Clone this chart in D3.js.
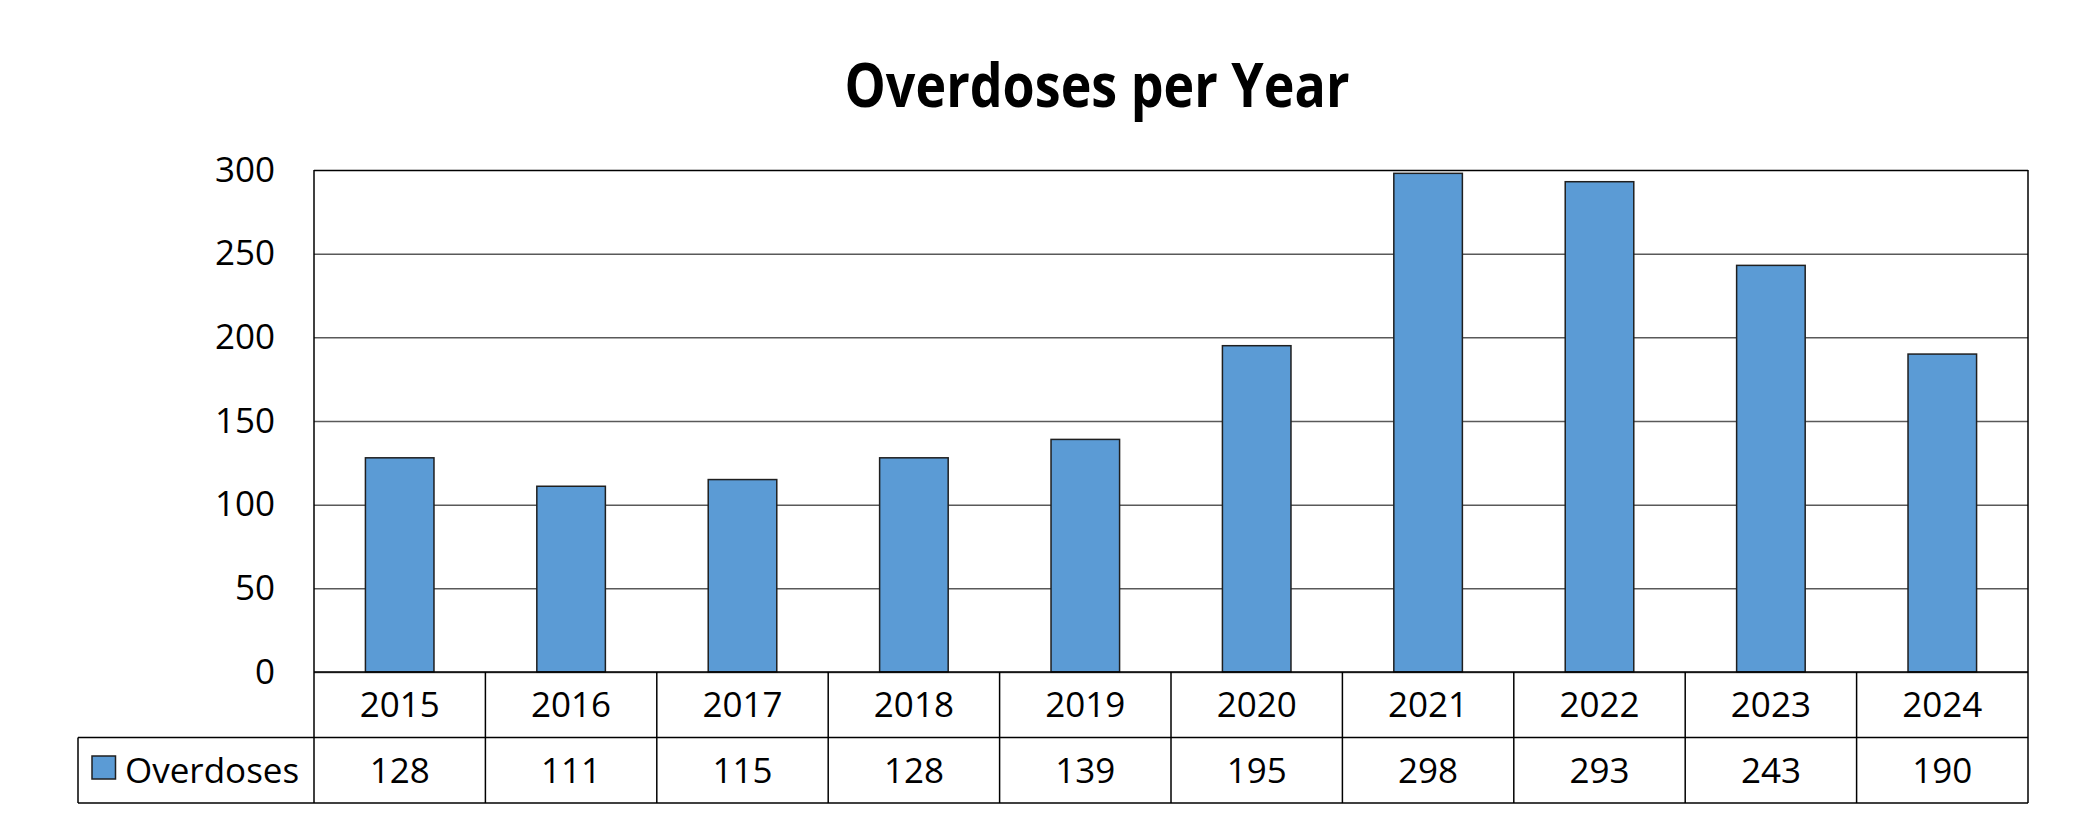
<!DOCTYPE html>
<html>
<head>
<meta charset="utf-8">
<script src="https://cdn.jsdelivr.net/npm/d3@7"></script>
<style>
  body { margin: 0; background: #fff; }
  text { font-family: "Open Sans", "Liberation Sans", sans-serif; fill: #000; }
</style>
</head>
<body>
<div id="chart"></div>
<script>
// data
const years = ["2015", "2016", "2017", "2018", "2019", "2020", "2021", "2022", "2023", "2024"];
const overdoses = [128, 111, 115, 128, 139, 195, 298, 293, 243, 190];
const yTicks = [0, 50, 100, 150, 200, 250, 300];
const seriesName = "Overdoses";

// setup
const width = 2079;
const height = 825;
const plot = { left: 314, right: 2028, top: 170, bottom: 672 };
const rowH = 65.5;
const legendLeft = 78;
const barColor = "#5b9bd5";
const fontSize = "35px";

const svg = d3.select("#chart")
    .append("svg")
    .attr("width", width)
    .attr("height", height);

const x = d3.scaleBand()
    .domain(years)
    .range([plot.left, plot.right])
    .paddingInner(0.6)
    .paddingOuter(0.3);

const cell = d3.scaleBand()
    .domain(years)
    .range([plot.left, plot.right])
    .padding(0);

const y = d3.scaleLinear()
    .domain([0, 300])
    .range([plot.bottom, plot.top]);

// title
svg.append("text")
    .attr("x", 1097).attr("y", 107)
    .attr("text-anchor", "middle")
    .attr("textLength", 505)
    .attr("lengthAdjust", "spacingAndGlyphs")
    .style("font-size", "61px")
    .style("font-weight", "bold")
    .text("Overdoses per Year");

// gridlines + y labels
const yAxis = svg.append("g")
    .attr("transform", `translate(${plot.left},0)`)
    .call(d3.axisLeft(y).tickValues(yTicks).tickSize(-(plot.right - plot.left)).tickPadding(39));
yAxis.select(".domain").remove();
yAxis.selectAll(".tick line")
    .attr("stroke", d => d === 300 ? "#000" : "#595959")
    .attr("stroke-width", 1.5);
yAxis.selectAll(".tick text")
    .attr("fill", "#000")
    .style("font-size", fontSize)
    .style("font-family", "'Open Sans', sans-serif");

// plot frame sides
svg.append("line")
    .attr("x1", plot.left).attr("x2", plot.left)
    .attr("y1", plot.top).attr("y2", plot.bottom)
    .attr("stroke", "#000").attr("stroke-width", 1.5);
svg.append("line")
    .attr("x1", plot.right).attr("x2", plot.right)
    .attr("y1", plot.top).attr("y2", plot.bottom)
    .attr("stroke", "#000").attr("stroke-width", 1.5);

// bars
svg.append("g")
    .selectAll("rect")
    .data(overdoses)
    .join("rect")
    .attr("x", (d, i) => x(years[i]))
    .attr("width", x.bandwidth())
    .attr("y", d => y(d))
    .attr("height", d => y(0) - y(d))
    .attr("fill", barColor)
    .attr("stroke", "#1f1f1f")
    .attr("stroke-width", 1.5);

// data table
const table = svg.append("g")
    .attr("fill", "none")
    .attr("stroke", "#000")
    .attr("stroke-width", 1.5);

const row1 = plot.bottom;
const row2 = plot.bottom + rowH;
const row3 = plot.bottom + 2 * rowH;

table.append("line")
    .attr("x1", plot.left).attr("x2", plot.right)
    .attr("y1", row1).attr("y2", row1);
table.append("line")
    .attr("x1", legendLeft).attr("x2", plot.right)
    .attr("y1", row2).attr("y2", row2);
table.append("line")
    .attr("x1", legendLeft).attr("x2", plot.right)
    .attr("y1", row3).attr("y2", row3);
table.append("line")
    .attr("x1", legendLeft).attr("x2", legendLeft)
    .attr("y1", row2).attr("y2", row3);

table.selectAll(".sep")
    .data(years.concat(["end"]))
    .join("line")
    .attr("class", "sep")
    .attr("x1", (d, i) => i < years.length ? cell(d) : plot.right)
    .attr("x2", (d, i) => i < years.length ? cell(d) : plot.right)
    .attr("y1", row1).attr("y2", row3);

svg.append("g")
    .selectAll("text")
    .data(years)
    .join("text")
    .attr("x", d => cell(d) + cell.bandwidth() / 2)
    .attr("y", (row1 + row2) / 2)
    .attr("dy", "0.35em")
    .attr("text-anchor", "middle")
    .style("font-size", fontSize)
    .text(d => d);

svg.append("g")
    .selectAll("text")
    .data(overdoses)
    .join("text")
    .attr("x", (d, i) => cell(years[i]) + cell.bandwidth() / 2)
    .attr("y", (row2 + row3) / 2)
    .attr("dy", "0.35em")
    .attr("text-anchor", "middle")
    .style("font-size", fontSize)
    .text(d => d);

// legend key
svg.append("rect")
    .attr("x", 92).attr("y", 756)
    .attr("width", 23.5).attr("height", 23)
    .attr("fill", barColor)
    .attr("stroke", "#1f1f1f")
    .attr("stroke-width", 1.5);
svg.append("text")
    .attr("x", 125)
    .attr("y", (row2 + row3) / 2)
    .attr("dy", "0.35em")
    .style("font-size", fontSize)
    .text(seriesName);
</script>
</body>
</html>
